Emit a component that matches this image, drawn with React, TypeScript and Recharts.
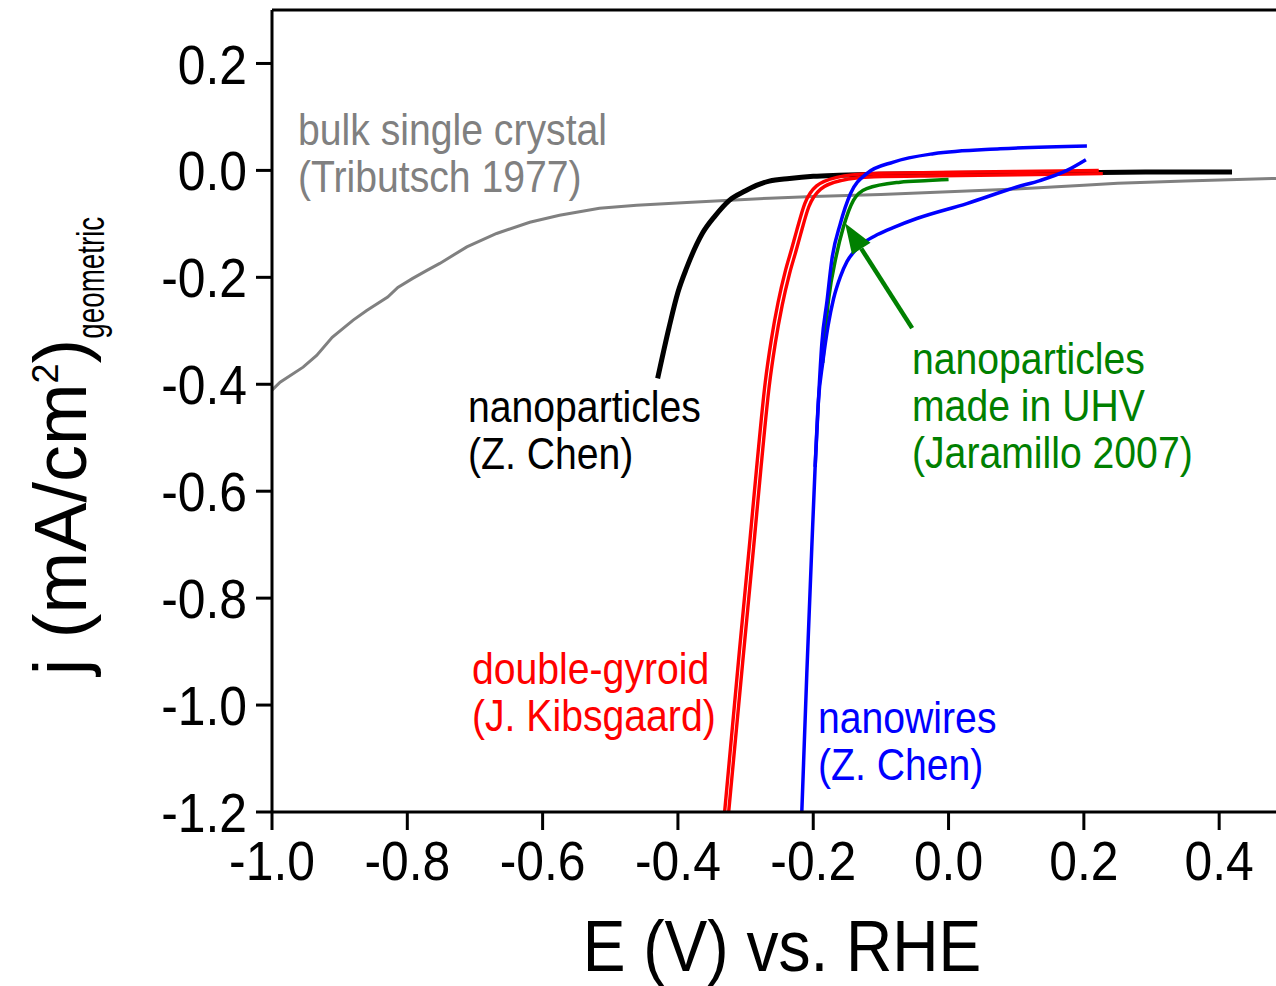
import { LineChart, Line, XAxis, YAxis, ReferenceLine } from "recharts";

const FONT = "'Liberation Sans', Arial, Helvetica, sans-serif";
const SQUEEZE = 0.89; // the source figure is a little narrower than plain Arial

// E (V) vs RHE, j (mA/cm2)
const bulkCrystal = [
  { x: -1.0, y: -0.411 }, { x: -0.988, y: -0.396 }, { x: -0.954, y: -0.368 },
  { x: -0.934, y: -0.346 }, { x: -0.911, y: -0.312 }, { x: -0.88, y: -0.28 },
  { x: -0.86, y: -0.262 }, { x: -0.829, y: -0.237 }, { x: -0.814, y: -0.219 },
  { x: -0.792, y: -0.202 }, { x: -0.771, y: -0.187 }, { x: -0.752, y: -0.174 },
  { x: -0.712, y: -0.143 }, { x: -0.668, y: -0.118 }, { x: -0.619, y: -0.097 },
  { x: -0.575, y: -0.084 }, { x: -0.516, y: -0.071 }, { x: -0.461, y: -0.065 },
  { x: -0.387, y: -0.06 }, { x: -0.265, y: -0.052 }, { x: -0.2, y: -0.049 },
  { x: -0.1, y: -0.045 }, { x: 0.0, y: -0.04 }, { x: 0.1, y: -0.035 },
  { x: 0.2, y: -0.028 }, { x: 0.25, y: -0.024 }, { x: 0.35, y: -0.02 },
  { x: 0.484, y: -0.015 },
];

const npChen = [
  { x: -0.43, y: -0.389 }, { x: -0.413, y: -0.293 }, { x: -0.4, y: -0.228 },
  { x: -0.387, y: -0.182 }, { x: -0.364, y: -0.118 }, { x: -0.345, y: -0.085 },
  { x: -0.324, y: -0.056 }, { x: -0.3, y: -0.038 }, { x: -0.284, y: -0.028 },
  { x: -0.265, y: -0.02 }, { x: -0.235, y: -0.015 }, { x: -0.2, y: -0.011 },
  { x: -0.162, y: -0.009 }, { x: -0.1, y: -0.007 }, { x: -0.014, y: -0.006 },
  { x: 0.1, y: -0.005 }, { x: 0.2, y: -0.004 }, { x: 0.3, y: -0.003 },
  { x: 0.419, y: -0.003 },
];

// double gyroid: two sweeps lying almost on top of each other
const gyroidA = [
  { x: -0.331, y: -1.2 }, { x: -0.309, y: -0.897 }, { x: -0.294, y: -0.697 },
  { x: -0.283, y: -0.547 }, { x: -0.271, y: -0.397 }, { x: -0.262, y: -0.317 },
  { x: -0.252, y: -0.247 }, { x: -0.241, y: -0.187 }, { x: -0.232, y: -0.147 },
  { x: -0.225, y: -0.115 }, { x: -0.2125, y: -0.062 }, { x: -0.195, y: -0.029 },
  { x: -0.165, y: -0.013 }, { x: -0.116, y: -0.006 }, { x: -0.017, y: -0.004 },
  { x: 0.097, y: -0.002 }, { x: 0.222, y: 0.0 },
];
const gyroidB = [
  { x: -0.325, y: -1.2 }, { x: -0.303, y: -0.903 }, { x: -0.288, y: -0.703 },
  { x: -0.277, y: -0.553 }, { x: -0.265, y: -0.403 }, { x: -0.256, y: -0.323 },
  { x: -0.246, y: -0.253 }, { x: -0.235, y: -0.193 }, { x: -0.226, y: -0.153 },
  { x: -0.219, y: -0.121 }, { x: -0.2065, y: -0.068 }, { x: -0.189, y: -0.035 },
  { x: -0.159, y: -0.019 }, { x: -0.11, y: -0.012 }, { x: -0.011, y: -0.01 },
  { x: 0.103, y: -0.008 }, { x: 0.228, y: -0.006 },
];

const jaramillo = [
  { x: -0.186, y: -0.36 }, { x: -0.1775, y: -0.243 }, { x: -0.166, y: -0.16 },
  { x: -0.1554, y: -0.106 }, { x: -0.1406, y: -0.056 }, { x: -0.121, y: -0.034 },
  { x: -0.0716, y: -0.022 }, { x: -0.03, y: -0.019 }, { x: 0.0, y: -0.017 },
];

// nanowires: outer sweep and inner (return) sweep
const wiresOuter = [
  { x: -0.2169, y: -1.2 }, { x: -0.2095, y: -0.941 }, { x: -0.2021, y: -0.704 },
  { x: -0.1972, y: -0.5545 }, { x: -0.1923, y: -0.43 }, { x: -0.1873, y: -0.324 },
  { x: -0.1795, y: -0.243 }, { x: -0.1726, y: -0.168 }, { x: -0.16, y: -0.0997 },
  { x: -0.145, y: -0.0436 }, { x: -0.121, y: -0.006 }, { x: -0.0815, y: 0.0156 },
  { x: -0.0223, y: 0.0312 }, { x: 0.0763, y: 0.0405 }, { x: 0.2045, y: 0.0455 },
];
const wiresInner = [
  { x: -0.1972, y: -0.5545 }, { x: -0.1923, y: -0.43 }, { x: -0.186, y: -0.36 },
  { x: -0.178, y: -0.29 }, { x: -0.17, y: -0.24 }, { x: -0.16, y: -0.199 },
  { x: -0.15, y: -0.17 }, { x: -0.138, y: -0.15 }, { x: -0.124, y: -0.134 },
  { x: -0.105, y: -0.12 }, { x: -0.08, y: -0.106 }, { x: -0.047, y: -0.09 },
  { x: 0.027, y: -0.062 }, { x: 0.101, y: -0.031 }, { x: 0.135, y: -0.019 },
  { x: 0.175, y: 0.0 }, { x: 0.203, y: 0.02 },
];

// arrow pointing at the UHV curve: tail -> tip
const arrowSegment = [
  { x: -0.0538, y: -0.295 },
  { x: -0.1529, y: -0.099 },
];

const xTicks = [-1.0, -0.8, -0.6, -0.4, -0.2, 0.0, 0.2, 0.4];
const yTicks = [-1.2, -1.0, -0.8, -0.6, -0.4, -0.2, 0.0, 0.2];

const labels = [
  { lines: ["bulk single crystal", "(Tributsch 1977)"], color: "#808080", x: 298, y: 145 },
  { lines: ["nanoparticles", "(Z. Chen)"], color: "#000000", x: 468, y: 422 },
  { lines: ["nanoparticles", "made in UHV", "(Jaramillo 2007)"], color: "#008000", x: 912, y: 374 },
  { lines: ["double-gyroid", "(J. Kibsgaard)"], color: "#ff0000", x: 472, y: 684 },
  { lines: ["nanowires", "(Z. Chen)"], color: "#0000ff", x: 818, y: 733 },
];

function XTick({ x, y, payload }: any) {
  return (
    <g transform={`translate(${x},${y}) scale(${SQUEEZE},1)`}>
      <text textAnchor="middle" dy="0.716em" fontSize={56} fontFamily={FONT} fill="#000">
        {payload.value.toFixed(1)}
      </text>
    </g>
  );
}

function YTick({ x, y, payload }: any) {
  return (
    <g transform={`translate(${x},${y}) scale(${SQUEEZE},1)`}>
      <text textAnchor="end" dy="0.358em" fontSize={56} fontFamily={FONT} fill="#000">
        {payload.value.toFixed(1)}
      </text>
    </g>
  );
}

function Arrow(props: any) {
  const { x1, y1, x2, y2 } = props;
  const ang = Math.atan2(y2 - y1, x2 - x1);
  const len = 30;
  const half = 11;
  const bx = x2 - len * Math.cos(ang);
  const by = y2 - len * Math.sin(ang);
  const nx = -Math.sin(ang);
  const ny = Math.cos(ang);
  const pts = `${x2},${y2} ${bx + half * nx},${by + half * ny} ${bx - half * nx},${by - half * ny}`;
  return (
    <g>
      <line x1={x1} y1={y1} x2={bx} y2={by} stroke="#008000" strokeWidth={4.5} />
      <polygon points={pts} fill="#008000" />
    </g>
  );
}

export default function App() {
  return (
    <div style={{ position: "relative", width: 1276, height: 986, overflow: "hidden", background: "#fff" }}>
      <style>{"body{margin:0;overflow:hidden}"}</style>
      <LineChart width={1276} height={986} margin={{ top: 10, right: 0, left: 0, bottom: 0 }}>
        <XAxis
          type="number"
          dataKey="x"
          domain={[-1.0, 0.484]}
          ticks={xTicks}
          allowDataOverflow
          height={174}
          tick={<XTick />}
          tickSize={18}
          tickMargin={10}
          axisLine={{ stroke: "#000", strokeWidth: 3 }}
          tickLine={{ stroke: "#000", strokeWidth: 3 }}
        />
        <YAxis
          type="number"
          dataKey="y"
          domain={[-1.2, 0.3]}
          ticks={yTicks}
          allowDataOverflow
          width={272}
          tick={<YTick />}
          tickSize={16}
          tickMargin={9}
          axisLine={{ stroke: "#000", strokeWidth: 3 }}
          tickLine={{ stroke: "#000", strokeWidth: 3 }}
        />
        <ReferenceLine y={0.3} stroke="#000" strokeWidth={3} />
        <Line data={bulkCrystal} dataKey="y" type="linear" stroke="#808080" strokeWidth={3} dot={false} activeDot={false} isAnimationActive={false} />
        <Line data={npChen} dataKey="y" type="monotone" stroke="#000" strokeWidth={5} dot={false} activeDot={false} isAnimationActive={false} />
        <Line data={gyroidA} dataKey="y" type="monotone" stroke="#ff0000" strokeWidth={3.4} dot={false} activeDot={false} isAnimationActive={false} />
        <Line data={gyroidB} dataKey="y" type="monotone" stroke="#ff0000" strokeWidth={3.4} dot={false} activeDot={false} isAnimationActive={false} />
        <Line data={jaramillo} dataKey="y" type="monotone" stroke="#008000" strokeWidth={3.5} dot={false} activeDot={false} isAnimationActive={false} />
        <Line data={wiresOuter} dataKey="y" type="monotone" stroke="#0000ff" strokeWidth={3.5} dot={false} activeDot={false} isAnimationActive={false} />
        <Line data={wiresInner} dataKey="y" type="monotone" stroke="#0000ff" strokeWidth={3.5} dot={false} activeDot={false} isAnimationActive={false} />
        <ReferenceLine segment={arrowSegment} shape={<Arrow />} />
      </LineChart>

      <svg
        width={1276}
        height={986}
        style={{ position: "absolute", left: 0, top: 0, pointerEvents: "none" }}
      >
        {labels.map((lb) => (
          <g key={lb.lines.join()} transform={`translate(${lb.x},${lb.y}) scale(${SQUEEZE},1)`}>
            {lb.lines.map((t, i) => (
              <text key={t} x={0} y={i * 47} fontSize={44} fontFamily={FONT} fill={lb.color}>
                {t}
              </text>
            ))}
          </g>
        ))}

        {/* axis titles */}
        <g transform={`translate(782,971) scale(${SQUEEZE},1)`}>
          <text textAnchor="middle" fontSize={72} fontFamily={FONT} fill="#000">
            E (V) vs. RHE
          </text>
        </g>
        <g transform="translate(86,446) rotate(-90)">
          <text textAnchor="middle" fontSize={74} fontFamily={FONT} fill="#000">
            j (mA/cm
            <tspan fontSize={36} dy={-28}>2</tspan>
            <tspan dy={28}>)</tspan>
            <tspan fontSize={38} dy={18} textLength={122} lengthAdjust="spacingAndGlyphs">geometric</tspan>
          </text>
        </g>
      </svg>
    </div>
  );
}
